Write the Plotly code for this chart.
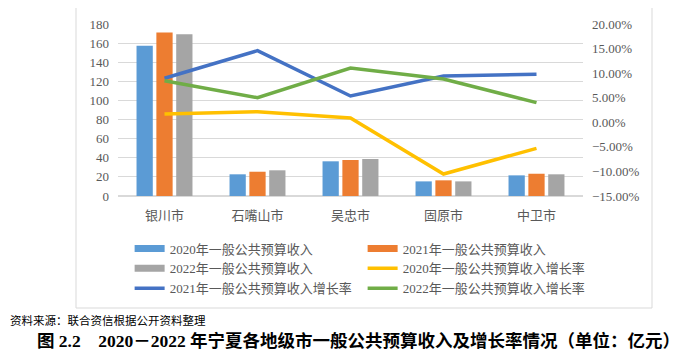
import plotly.graph_objects as go

cities = ["银川市", "石嘴山市", "吴忠市", "固原市", "中卫市"]
rev_2020 = [157.3, 22.7, 36.3, 15.3, 21.6]
rev_2021 = [171.2, 25.4, 37.7, 16.4, 23.3]
rev_2022 = [169.2, 26.9, 38.7, 15.3, 22.7]
gr_2020 = [0.0169, 0.0216, 0.0087, -0.1053, -0.0530]
gr_2021 = [0.0895, 0.1457, 0.0535, 0.0942, 0.0976]
gr_2022 = [0.0846, 0.0500, 0.1105, 0.0880, 0.0400]

bar_names = ["2020年一般公共预算收入", "2021年一般公共预算收入", "2022年一般公共预算收入"]
line_names = ["2020年一般公共预算收入增长率", "2021年一般公共预算收入增长率", "2022年一般公共预算收入增长率"]
bar_colors = ["#5B9BD5", "#ED7D31", "#A5A5A5"]
line_colors = ["#FFC000", "#4472C4", "#70AD47"]

fig = go.Figure()
for name, vals, c in zip(bar_names, [rev_2020, rev_2021, rev_2022], bar_colors):
    fig.add_trace(go.Bar(x=cities, y=vals, name=name, marker=dict(color=c, line=dict(width=0)),
                         showlegend=False, yaxis="y"))
for name, vals, c in zip(line_names, [gr_2020, gr_2021, gr_2022], line_colors):
    fig.add_trace(go.Scatter(x=cities, y=vals, name=name, mode="lines",
                             line=dict(color=c, width=3.5), showlegend=False, yaxis="y2"))

# legend entries (wide swatches like the original)
legend_items = [(bar_names[0], bar_colors[0], 7), (bar_names[1], bar_colors[1], 7),
                (bar_names[2], bar_colors[2], 7), (line_names[0], line_colors[0], 3.5),
                (line_names[1], line_colors[1], 3.5), (line_names[2], line_colors[2], 3.5)]
for i, (name, c, w) in enumerate(legend_items):
    fig.add_trace(go.Scatter(x=[None], y=[None], name=name, mode="lines",
                             line=dict(color=c, width=w), showlegend=True,
                             legendrank=i + 1, yaxis="y"))

# the page body has an 8px margin, so the figure is 8px smaller than the window
fig.update_layout(
    width=692, height=347,
    margin=dict(l=110, r=117, t=16, b=159, autoexpand=False),
    paper_bgcolor="white", plot_bgcolor="white",
    barmode="group", bargap=0.36, bargroupgap=0.18,
    font=dict(family="Liberation Serif, Noto Sans CJK SC", color="#595959", size=13),
    xaxis=dict(type="category", showgrid=False, showline=False, ticks="", automargin=False,
               tickfont=dict(family="Noto Sans CJK SC", size=13, color="#595959"),
               ticklabelstandoff=10),
    yaxis=dict(range=[0, 180], dtick=20, showgrid=True, gridcolor="#D9D9D9", gridwidth=1,
               zeroline=True, zerolinecolor="#D9D9D9", showline=False, ticks="", automargin=False,
               tickfont=dict(family="Liberation Serif", size=13, color="#595959"),
               ticklabelstandoff=8),
    yaxis2=dict(range=[-0.15, 0.20], dtick=0.05, tickformat=".2%", overlaying="y", side="right",
                showgrid=False, zeroline=False, showline=False, ticks="", automargin=False,
                tickfont=dict(family="Liberation Serif", size=13, color="#595959"),
                ticklabelstandoff=8),
    legend=dict(orientation="h", x=0.025, y=-0.218, xanchor="left", yanchor="top",
                entrywidth=188, entrywidthmode="pixels",
                font=dict(family="Liberation Serif, Noto Sans CJK SC", size=13, color="#595959"),
                tracegroupgap=0, itemwidth=30, bgcolor="rgba(0,0,0,0)"),
    showlegend=True,
)

fig.add_shape(type="rect", xref="paper", yref="paper",
              x0=(76 - 118) / 465, x1=(652 - 118) / 465,
              y0=(196 - 308) / 172, y1=(196 - 5) / 172,
              line=dict(color="#D9D9D9", width=1), fillcolor="rgba(0,0,0,0)", layer="below")

fig.add_annotation(text="资料来源：联合资信根据公开资料整理", xref="paper", yref="paper",
                   x=(0 - 110) / 465, y=(196 - 320) / 172, xanchor="left", yanchor="middle",
                   showarrow=False, font=dict(family="Noto Sans CJK SC", size=11.5, color="#000000"))
fig.add_annotation(text="<b>图 2.2\u00a0\u00a0\u00a0\u00a02020－2022 年宁夏各地级市一般公共预算收入及增长率情况（单位：亿元）</b>",
                   xref="paper", yref="paper",
                   x=(358 - 118) / 465, y=(196 - 341) / 172, xanchor="center", yanchor="middle",
                   showarrow=False, font=dict(family="Liberation Serif, Noto Sans CJK SC", size=17.5, color="#000000"))

fig.write_html("out.html")
